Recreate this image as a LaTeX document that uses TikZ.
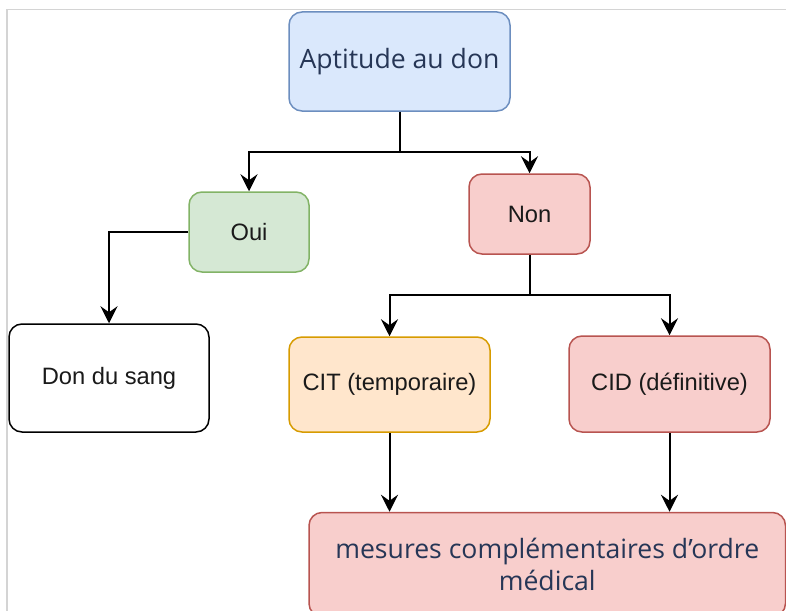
\documentclass[tikz,border=0pt]{standalone}
\usepackage{fontspec}
\setmainfont{Liberation Sans}
\newfontfamily\segoe{Open Sans}
\usetikzlibrary{arrows.meta,calc}
\definecolor{bluefill}{HTML}{DAE8FC}
\definecolor{bluedraw}{HTML}{6C8EBF}
\definecolor{greenfill}{HTML}{D5E8D4}
\definecolor{greendraw}{HTML}{82B366}
\definecolor{redfill}{HTML}{F8CECC}
\definecolor{reddraw}{HTML}{B85450}
\definecolor{orangefill}{HTML}{FFE6CC}
\definecolor{orangedraw}{HTML}{D79B00}
\definecolor{navytext}{HTML}{263656}
\definecolor{darktext}{HTML}{1A1A1A}
\definecolor{framegray}{HTML}{D4D4D4}
\tikzset{
  box/.style={rectangle, rounded corners=13pt, line width=1.5pt, inner sep=0pt, align=center,
    font=\fontsize{23.7}{28}\selectfont, text=darktext},
  bigbox/.style={box, font=\segoe\fontsize{26.6}{32}\selectfont, text=navytext},
  arr/.style={line width=2pt, -{Stealth[length=17pt,width=17pt,inset=6pt]}},
}
\begin{document}
\begin{tikzpicture}[x=1pt,y=-1pt]
\useasboundingbox (0,0) rectangle (786,610);
\clip (0,0) rectangle (786,610);
\draw[framegray, line width=1.5pt] (7,620) -- (7,9.5) -- (790,9.5);

\node[bigbox, fill=bluefill, draw=bluedraw, minimum width=221pt, minimum height=99pt] (apt) at (399.5,61.5) {\raisebox{-2pt}{Aptitude au don}};
\node[box, fill=greenfill, draw=greendraw, minimum width=120pt, minimum height=80pt] (oui) at (249,232) {Oui};
\node[box, fill=redfill, draw=reddraw, minimum width=121pt, minimum height=80pt] (non) at (529.5,214) {Non};
\node[box, fill=white, draw=black, minimum width=200pt, minimum height=108pt] (don) at (109,378) {Don du sang};
\node[box, fill=orangefill, draw=orangedraw, minimum width=201pt, minimum height=95pt] (cit) at (389.5,384.5) {CIT (temporaire)};
\node[box, fill=redfill, draw=reddraw, minimum width=201pt, minimum height=96pt] (cid) at (669.5,384) {CID (définitive)};
\node[bigbox, fill=redfill, draw=reddraw, minimum width=476.5pt, minimum height=104pt] (mes) at (547.25,564.5) {mesures complémentaires d’ordre\\médical};

\coordinate (j1) at (399.5,152);
\coordinate (j2) at (529.5,295);

\draw[arr] (apt.south) -- (apt.south |- j1) -| (oui.north);
\draw[arr] (apt.south) -- (apt.south |- j1) -| (non.north);
\draw[arr] (oui.west) -| (don.north);
\draw[arr] (non.south) -- (non.south |- j2) -| (cit.north);
\draw[arr] (non.south) -- (non.south |- j2) -| (cid.north);
\draw[arr] (cit.south) -- (cit.south |- mes.north);
\draw[arr] (cid.south) -- (cid.south |- mes.north);
\end{tikzpicture}
\end{document}
